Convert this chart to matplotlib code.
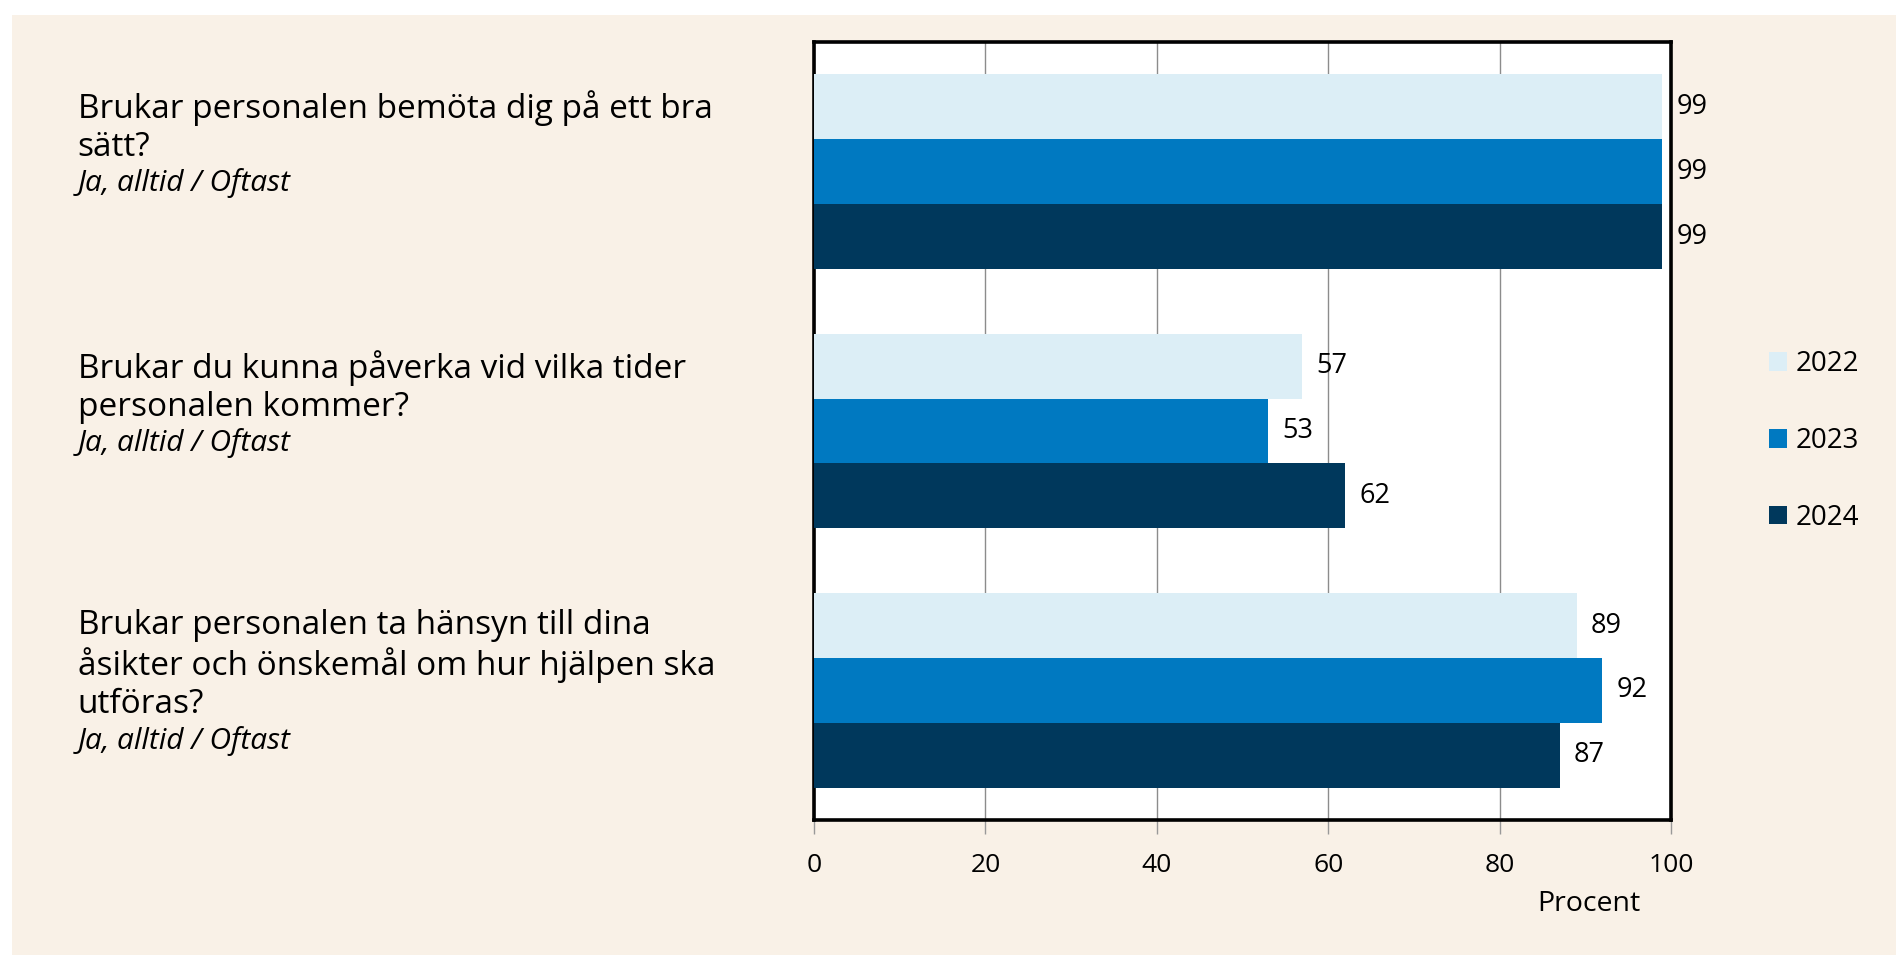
import matplotlib
matplotlib.use('Agg')
import matplotlib.pyplot as plt
import matplotlib.transforms as mtransforms
from matplotlib.patches import Rectangle
import numpy as np

# Survey questions (top to bottom) and the share answering "Ja, alltid / Oftast"
questions = [
    "Brukar personalen bemöta dig på ett bra\nsätt?",
    "Brukar du kunna påverka vid vilka tider\npersonalen kommer?",
    "Brukar personalen ta hänsyn till dina\nåsikter och önskemål om hur hjälpen ska\nutföras?",
]
answer_note = "Ja, alltid / Oftast"
years = ["2022", "2023", "2024"]
values_2022 = [99, 57, 89]
values_2023 = [99, 53, 92]
values_2024 = [99, 62, 87]
series = [values_2022, values_2023, values_2024]
xticks = [0, 20, 40, 60, 80, 100]
xlabel = "Procent"

colors = ["#dceef6", "#0079c1", "#00385c"]
beige = "#f9f1e7"

plt.rcParams['font.family'] = ['Open Sans', 'DejaVu Sans']

fig = plt.figure(figsize=(18.96, 9.55), dpi=100, facecolor="white")
# beige panel behind everything
fig.patches.append(Rectangle((12 / 1896, 0), 1, 1 - 15 / 955, transform=fig.transFigure,
                             facecolor=beige, edgecolor="none", zorder=-10))

ax = fig.add_axes([814 / 1896, 1 - 820 / 955, 857 / 1896, 778 / 955])
ax.set_facecolor("white")

ypos = np.arange(len(questions))
bar_h = 0.25
for i, (vals, year, col) in enumerate(zip(series, years, colors)):
    rects = ax.barh(ypos + (i - 1) * bar_h, vals, height=bar_h, color=col,
                    label=year, linewidth=0, zorder=3)
    ax.bar_label(rects, labels=[str(v) for v in vals], padding=10, fontsize=19.5, color="black")

ax.set_xlim(0, 100)
ax.set_ylim(len(questions) - 0.5, -0.5)
ax.set_xticks(xticks)
ax.set_xticklabels([str(t) for t in xticks], fontsize=19)
ax.set_yticks([])
ax.tick_params(axis='x', direction='out', length=10, width=1, color="#999999", pad=14)
ax.grid(axis='x', color="#8c8c8c", linewidth=1, zorder=0)
for sp in ax.spines.values():
    sp.set_linewidth(2.6)
    sp.set_color("black")

ax.set_xlabel(xlabel, fontsize=20.5)
ax.xaxis.set_label_coords(0.9045, -0.09)

# question texts to the left of each group, with the italic note under them
trans = mtransforms.blended_transform_factory(fig.transFigure, ax.transData)
offset = mtransforms.ScaledTranslation(0, -11.5 / 72, fig.dpi_scale_trans)
for y, q in zip(ypos, questions):
    t = ax.text(0.041, y - 1.5 * bar_h, q, transform=trans + offset, ha='left', va='top',
                fontsize=24, linespacing=1.2, clip_on=False)
    ax.annotate(answer_note, xy=(0, 0), xycoords=t, xytext=(0, -3), textcoords='offset points',
                ha='left', va='top', fontsize=21.5, style='italic', annotation_clip=False)

fig.legend(loc='center left', bbox_to_anchor=(1769 / 1896, 1 - 441 / 955), frameon=False,
           fontsize=20, handlelength=0.65, handleheight=0.65, handletextpad=0.3,
           labelspacing=1.75, borderpad=0, borderaxespad=0)

fig.savefig("out.png", dpi=100, facecolor=fig.get_facecolor())
